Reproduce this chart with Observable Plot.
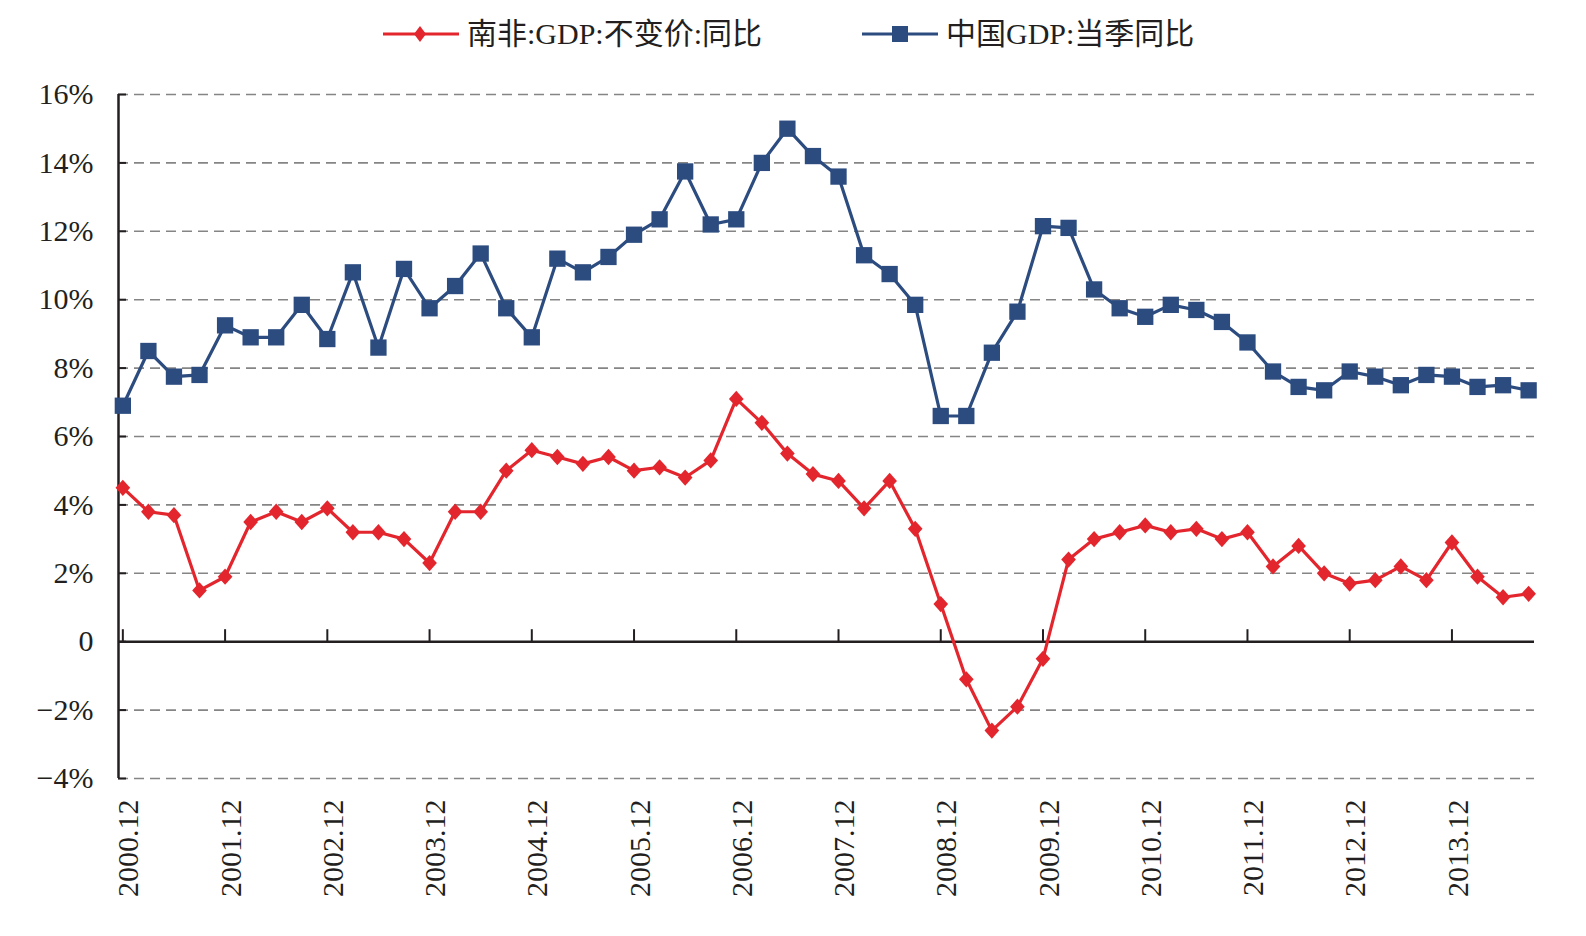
<!DOCTYPE html>
<html>
<head>
<meta charset="utf-8">
<script src="https://cdn.jsdelivr.net/npm/d3@7"></script>
<script src="https://cdn.jsdelivr.net/npm/@observablehq/plot@0.6"></script>
<style>
  body { margin: 0; background: #fff; }
  #legend { position: relative; height: 70px; font-family: "Liberation Serif", "Noto Sans CJK SC", serif; font-size: 30px; color: #231f20; }
  .item { position: absolute; top: 14px; height: 40px; display: flex; align-items: center; white-space: nowrap; }
  .item span { margin-left: 8px; line-height: 40px; }
</style>
</head>
<body>
<div id="legend"></div>
<div id="chart"></div>
<script>
// Quarter labels (quarter-end months)
const quarters = [
  "2000.12",
  "2001.03","2001.06","2001.09","2001.12",
  "2002.03","2002.06","2002.09","2002.12",
  "2003.03","2003.06","2003.09","2003.12",
  "2004.03","2004.06","2004.09","2004.12",
  "2005.03","2005.06","2005.09","2005.12",
  "2006.03","2006.06","2006.09","2006.12",
  "2007.03","2007.06","2007.09","2007.12",
  "2008.03","2008.06","2008.09","2008.12",
  "2009.03","2009.06","2009.09","2009.12",
  "2010.03","2010.06","2010.09","2010.12",
  "2011.03","2011.06","2011.09","2011.12",
  "2012.03","2012.06","2012.09","2012.12",
  "2013.03","2013.06","2013.09","2013.12",
  "2014.03","2014.06","2014.09"
];

// South Africa real GDP, y/y (%)
const southAfrica = [
  4.5, 3.8, 3.7, 1.5, 1.9, 3.5, 3.8, 3.5, 3.9, 3.2,
  3.2, 3.0, 2.3, 3.8, 3.8, 5.0, 5.6, 5.4, 5.2, 5.4,
  5.0, 5.1, 4.8, 5.3, 7.1, 6.4, 5.5, 4.9, 4.7, 3.9,
  4.7, 3.3, 1.1, -1.1, -2.6, -1.9, -0.5, 2.4, 3.0, 3.2,
  3.4, 3.2, 3.3, 3.0, 3.2, 2.2, 2.8, 2.0, 1.7, 1.8,
  2.2, 1.8, 2.9, 1.9, 1.3, 1.4
];

// China GDP, quarterly y/y (%)
const china = [
  6.9, 8.5, 7.75, 7.8, 9.25, 8.9, 8.9, 9.85, 8.85, 10.8,
  8.6, 10.9, 9.75, 10.4, 11.35, 9.75, 8.9, 11.2, 10.8, 11.25,
  11.9, 12.35, 13.75, 12.2, 12.35, 14.0, 15.0, 14.2, 13.6, 11.3,
  10.75, 9.85, 6.6, 6.6, 8.45, 9.65, 12.15, 12.1, 10.3, 9.75,
  9.5, 9.85, 9.7, 9.35, 8.75, 7.9, 7.45, 7.35, 7.9, 7.75,
  7.5, 7.8, 7.75, 7.45, 7.5, 7.35
];

const seriesNames = ["南非:GDP:不变价:同比", "中国GDP:当季同比"];
const yTicks = [-4, -2, 0, 2, 4, 6, 8, 10, 12, 14, 16];

const red = "#e3262d";
const blue = "#2c4c80";
const ink = "#231f20";
const font = "\"Liberation Serif\", \"Times New Roman\", \"Noto Sans CJK SC\", serif";

const rows = quarters.map((q, i) => ({i, q, sa: southAfrica[i], cn: china[i]}));
const yearRows = rows.filter(d => d.q.endsWith(".12"));

// Rhombus marker, slightly taller than wide
const tallDiamond = {
  draw(ctx, size) {
    const hy = Math.sqrt(size) / 2;
    const hx = hy * 0.9;
    ctx.moveTo(0, -hy);
    ctx.lineTo(hx, 0);
    ctx.lineTo(0, hy);
    ctx.lineTo(-hx, 0);
    ctx.closePath();
  }
};

const fmt = d => d === 0 ? "0" : (d < 0 ? "\u2212" : "") + Math.abs(d) + "%";
const x0 = -0.17;

const chart = Plot.plot({
  width: 1586,
  height: 866,
  marginLeft: 118,
  marginRight: 52,
  marginTop: 24,
  marginBottom: 158,
  style: {fontFamily: font, fontSize: "30px", color: ink, background: "#fff"},
  x: {domain: [x0, 55.23], axis: null},
  y: {domain: [-4, 16], axis: null},
  marks: [
    Plot.ruleY(yTicks.filter(d => d !== 0), {stroke: "#858585", strokeWidth: 1.6, strokeDasharray: "10,6"}),
    Plot.ruleY(yTicks, {x1: x0, x2: x0, insetRight: -8, stroke: ink, strokeWidth: 2}),
    Plot.ruleY([0], {stroke: ink, strokeWidth: 2.5}),
    Plot.ruleX(yearRows, {x: "i", y1: 0, y2: 0, insetTop: -12, stroke: ink, strokeWidth: 2}),
    Plot.ruleX([x0], {stroke: ink, strokeWidth: 2.5}),
    Plot.axisY({ticks: yTicks, tickFormat: fmt, tickSize: 0, tickPadding: 25, fontSize: 30, label: null}),
    Plot.text(yearRows, {x: "i", frameAnchor: "bottom", text: "q", rotate: -90, textAnchor: "end", lineAnchor: "middle", dy: 21, dx: 6, fontSize: 30, fill: ink}),
    Plot.line(rows, {x: "i", y: "cn", stroke: blue, strokeWidth: 3.2}),
    Plot.dot(rows, {x: "i", y: "cn", symbol: "square", r: 9.2, fill: blue, stroke: "none"}),
    Plot.line(rows, {x: "i", y: "sa", stroke: red, strokeWidth: 3.2}),
    Plot.dot(rows, {x: "i", y: "sa", symbol: tallDiamond, r: 9.2, fill: red, stroke: "none"})
  ]
});
document.getElementById("chart").appendChild(chart);

// Legend above the plot
const legend = d3.select("#legend");
const items = [
  {name: seriesNames[0], color: red, shape: "diamond", left: 383},
  {name: seriesNames[1], color: blue, shape: "square", left: 862}
];
for (const it of items) {
  const div = legend.append("div").attr("class", "item").style("left", it.left + "px");
  const svg = div.append("svg").attr("width", 76).attr("height", 30);
  svg.append("line").attr("x1", 0).attr("x2", 76).attr("y1", 15).attr("y2", 15)
    .attr("stroke", it.color).attr("stroke-width", 3);
  if (it.shape === "diamond") {
    svg.append("path").attr("d", "M37,7L43,15L37,23L31,15Z").attr("fill", it.color);
  } else {
    svg.append("rect").attr("x", 30).attr("y", 7).attr("width", 16).attr("height", 16).attr("fill", it.color);
  }
  div.append("span").text(it.name);
}
</script>
</body>
</html>
